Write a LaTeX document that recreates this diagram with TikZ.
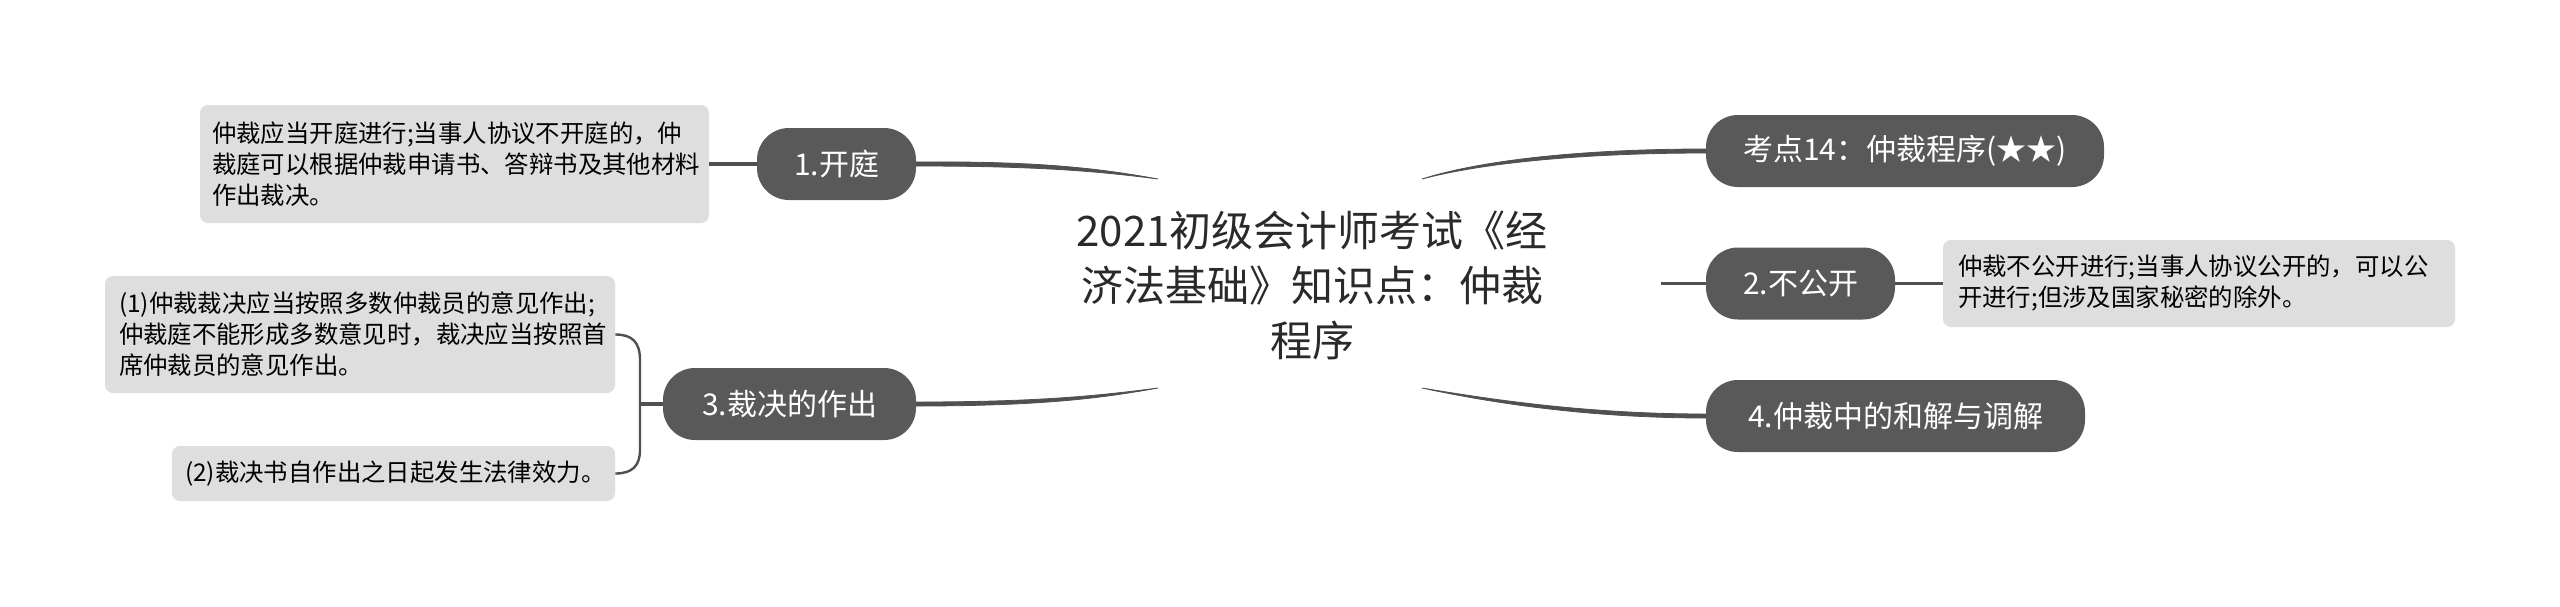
\documentclass[tikz,border=0pt]{standalone}
\usepackage{fontspec}
\setmainfont{Noto Sans CJK SC}
\usetikzlibrary{calc}
\definecolor{nodec}{HTML}{595959}
\definecolor{boxc}{HTML}{DEDEDE}
\definecolor{linec}{HTML}{505050}
\definecolor{titlec}{HTML}{2A2A2A}
\begin{document}
\begin{tikzpicture}[x=0.5pt,y=-0.5pt,
  topic/.style={fill=nodec, text=white, rounded corners=16pt, minimum height=36pt, inner xsep=0pt, inner ysep=0pt, font=\fontsize{15pt}{18pt}\selectfont},
  note/.style={fill=boxc, rounded corners=4pt, align=left, inner ysep=0pt, font=\fontsize{12.2pt}{15.5pt}\selectfont},
  stub/.style={draw=linec, line width=1.6pt},
  brace/.style={draw=linec, line width=1.2pt},
  taper/.style={fill=linec, draw=linec, line width=0.4pt}]
\useasboundingbox (0,0) rectangle (2560,606);
\fill[white] (0,0) rectangle (2560,606);

% central title
\node[align=center, text=titlec, inner sep=0pt, font=\fontsize{21pt}{27.5pt}\selectfont] (title) at (1312,285)
  {2021初级会计师考试《经\\济法基础》知识点：仲裁\\程序};

% main topics
\node[topic, minimum width=79.5pt] (n1) at (836.5,164) {1.开庭};
\node[topic, minimum width=126.5pt] (n3) at (789.5,404) {3.裁决的作出};
\node[topic, minimum width=199pt] (n14) at (1905,151) {考点14：仲裁程序(★★)};
\node[topic, minimum width=94.5pt] (n2) at (1800.5,283.5) {2.不公开};
\node[topic, minimum width=189.5pt] (n4) at (1895.5,416) {4.仲裁中的和解与调解};

% notes
\node[note, inner xsep=6pt, text width=242.5pt, minimum height=59pt] (boxA) at (454.5,164)
  {仲裁应当开庭进行;当事人协议不开庭的，仲\\裁庭可以根据仲裁申请书、答辩书及其他材料\\作出裁决。};
\node[note, inner xsep=7pt, text width=241pt, minimum height=58.5pt] (box1) at (360,334.5)
  {(1)仲裁裁决应当按照多数仲裁员的意见作出;\\仲裁庭不能形成多数意见时，裁决应当按照首\\席仲裁员的意见作出。};
\node[note, inner xsep=6.5pt, text width=208.5pt, minimum height=27.5pt] (box2) at (393.5,473.5)
  {(2)裁决书自作出之日起发生法律效力。};
\node[note, inner xsep=7.5pt, text width=241pt, minimum height=43.5pt] (boxR) at (2199,283.5)
  {仲裁不公开进行;当事人协议公开的，可以公\\开进行;但涉及国家秘密的除外。};

% free ends near the title
\coordinate (cA) at (1158,179);
\coordinate (cB) at (1158,388);
\coordinate (cC) at (1422,179);
\coordinate (cD) at (1422,388);
\coordinate (cE) at (1661,283.5);
\coordinate (bk) at (640,404);

% tapered branches
\fill[taper] ($(n1.east)+(0,-2)$) .. controls (1040,161) and (1100,168.5) .. (cA)
  .. controls (1100,171.5) and (1040,166) .. ($(n1.east)+(0,2)$) -- cycle;
\fill[taper] ($(n3.east)+(0,-2)$) .. controls (1040,402) and (1100,395.5) .. (cB)
  .. controls (1100,398.5) and (1040,406) .. ($(n3.east)+(0,2)$) -- cycle;
\fill[taper] (cC) .. controls (1480,160.5) and (1580,149) .. ($(n14.west)+(0,-2)$)
  -- ($(n14.west)+(0,2)$) .. controls (1580,153) and (1480,163.5) .. (cC) -- cycle;
\fill[taper] (cD) .. controls (1480,397.5) and (1580,414) .. ($(n4.west)+(0,-2)$)
  -- ($(n4.west)+(0,2)$) .. controls (1580,418) and (1480,400.5) .. (cD) -- cycle;

% straight links
\draw[stub] (boxA.east) -- (n1.west);
\draw[stub] (cE) -- (n2.west);
\draw[stub] (n2.east) -- (boxR.west);
\draw[stub] (n3.west) -- (bk);

% bracket
\draw[brace] (box1.east) .. controls (632,334.5) and (640,342) .. (640,360)
  -- (640,450) .. controls (640,466) and (632,473.5) .. (box2.east);
\end{tikzpicture}
\end{document}
